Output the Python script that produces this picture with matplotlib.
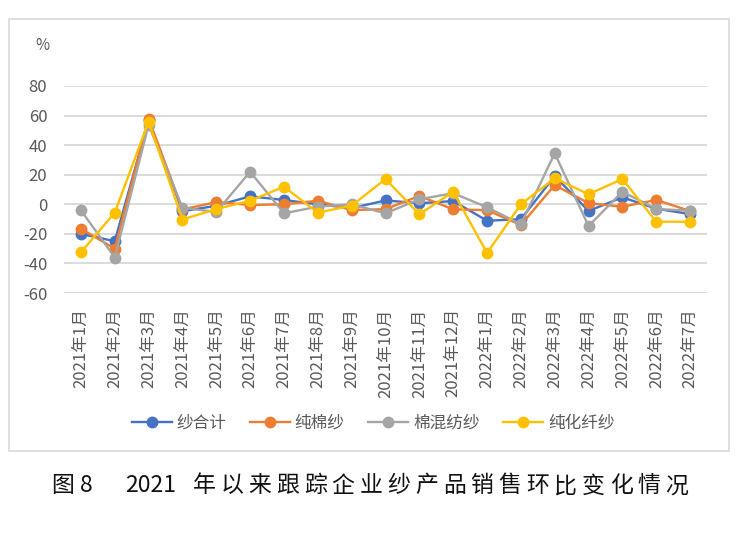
import matplotlib
matplotlib.use("Agg")
import matplotlib.pyplot as plt
from matplotlib.patches import Rectangle

plt.rcParams['font.family'] = ['Noto Sans CJK SC', 'DejaVu Sans']
plt.rcParams['axes.unicode_minus'] = False

months = ["2021年1月", "2021年2月", "2021年3月", "2021年4月", "2021年5月", "2021年6月",
          "2021年7月", "2021年8月", "2021年9月", "2021年10月", "2021年11月", "2021年12月",
          "2022年1月", "2022年2月", "2022年3月", "2022年4月", "2022年5月", "2022年6月",
          "2022年7月"]

yarn_total = [-20, -25, 57, -4.7, -1, 5.4, 2.9, 0, -2.6, 2.6, 0.7, 2.2,
              -11.1, -10.1, 19.1, -4.5, 4.7, -3, -6.6]
pure_cotton = [-16.5, -30, 58, -3.5, 1.5, -0.5, 0, 2.4, -3.9, -3.3, 5.6, -3.4,
               -4, -14, 13, 0.7, -1.6, 2.9, -4.5]
cotton_blend = [-4, -36, 53.8, -2.3, -5.2, 22, -6.1, -1.6, 0, -6.1, 3.4, 7.5,
                -2, -13.5, 34.5, -14.7, 8.5, -3.2, -4.3]
pure_fiber = [-32.5, -5.7, 55.9, -10.3, -3.2, 2.4, 11.9, -5.7, -0.9, 17.1, -6.8, 8.5,
              -33, 0, 17.6, 6.8, 17.1, -11.8, -11.8]

series = [("纱合计", yarn_total, "#4472C4"),
          ("纯棉纱", pure_cotton, "#ED7D31"),
          ("棉混纺纱", cotton_blend, "#A5A5A5"),
          ("纯化纤纱", pure_fiber, "#FFC000")]

caption_head = "图 8"
caption_year = "2021"
caption_rest = "年以来跟踪企业纱产品销售环比变化情况"

W, H = 740, 534
fig = plt.figure(figsize=(W / 100, H / 100), dpi=100)
ax = fig.add_axes([64 / W, 1 - 293 / H, (707 - 64) / W, (293 - 86) / H])

x = list(range(len(months)))
for name, vals, col in series:
    ax.plot(x, vals, color=col, lw=1.7, marker="o", markersize=7.5, label=name)

ax.set_xlim(-0.5, len(months) - 0.5)
ax.set_ylim(-60, 80)
ax.set_yticks(range(-60, 81, 20))
ax.grid(axis="y", color="#D9D9D9", lw=1.3)
ax.set_axisbelow(True)
for s in ax.spines.values():
    s.set_visible(False)
ax.set_xticks(x)
ax.set_xticklabels(months, rotation=90, va="top", ha="center")
ax.tick_params(axis="both", length=0, labelsize=12, colors="#595959")
ax.tick_params(axis="y", pad=12)
ax.tick_params(axis="x", pad=11)

fig.text(42 / W, 1 - 46 / H, "%", fontsize=11, color="#595959", ha="center", va="center")

fig.legend(loc="center", bbox_to_anchor=(373 / W, 1 - 423 / H), ncol=4, frameon=False,
           fontsize=12, handlelength=2.4, handletextpad=0.3, columnspacing=1.4,
           labelcolor="#595959")

fig.patches.append(Rectangle((9 / W, 1 - 451 / H), 720 / W, 432 / H, transform=fig.transFigure,
                             fill=False, edgecolor="#D9D9D9", lw=1.2))

# caption, spaced out like the original
cy = 1 - 486 / H
cap_kw = dict(fontsize=16.5, color="#111111", va="center", weight="light")
fig.text(52 / W, cy, caption_head, ha="left", **cap_kw)
fig.text(125 / W, cy, caption_year, ha="left", **cap_kw)
for i, ch in enumerate(caption_rest):
    fig.text((204 + i * 27.8) / W, cy, ch, ha="center", **cap_kw)

fig.savefig("out.png", dpi=100)
